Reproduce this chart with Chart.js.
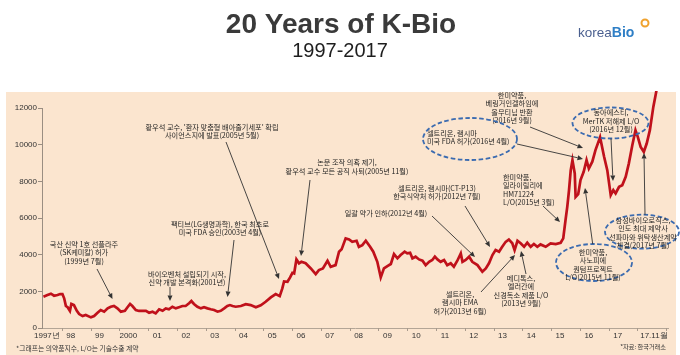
<!DOCTYPE html>
<html><head><meta charset="utf-8">
<script src="https://cdn.jsdelivr.net/npm/chart.js@4.4.1/dist/chart.umd.min.js"></script>
<style>html,body{margin:0;padding:0;background:#fff;}#wrap{position:relative;width:680px;height:355px;}</style>
</head><body><div id="wrap"><canvas id="c" width="680" height="355"></canvas></div>
<script>
// Position on the graphic's time axis (years, as drawn)
const years = [
 1997.05,1997.19,1997.31,1997.42,1997.54,1997.63,1997.71,1997.77,1997.83,1997.89,1997.97,
 1998.02,1998.11,1998.21,1998.29,1998.41,1998.52,1998.70,1998.81,1998.93,
 1999.04,1999.16,1999.28,1999.39,1999.50,1999.62,1999.74,1999.88,1999.97,
 2000.06,2000.14,2000.26,2000.37,2000.49,2000.61,2000.72,2000.84,2000.95,
 2001.07,2001.19,2001.30,2001.41,2001.53,2001.65,2001.76,2001.88,2001.99,
 2002.11,2002.19,2002.28,2002.40,2002.52,2002.63,2002.75,2002.86,2002.98,
 2003.10,2003.21,2003.33,2003.44,2003.53,2003.62,2003.73,2003.91,
 2004.08,2004.25,2004.43,2004.60,2004.77,2004.95,
 2005.12,2005.26,2005.35,2005.41,2005.53,2005.62,2005.70,2005.76,2005.84,2005.93,
 2006.01,2006.16,2006.34,2006.51,2006.62,2006.76,2006.92,
 2007.03,2007.20,2007.32,2007.41,2007.55,2007.67,2007.78,2007.93,
 2008.01,2008.13,2008.25,2008.40,2008.51,2008.65,2008.77,2008.88,
 2009.00,2009.12,2009.23,2009.35,2009.46,2009.60,2009.69,2009.79,2009.87,2009.98,
 2010.10,2010.22,2010.33,2010.45,2010.56,2010.65,2010.74,2010.85,2010.97,
 2011.08,2011.20,2011.31,2011.43,2011.55,2011.61,2011.72,2011.84,2011.95,
 2012.13,2012.30,2012.42,2012.53,2012.65,2012.76,2012.88,2012.99,
 2013.11,2013.22,2013.34,2013.42,2013.52,2013.63,2013.75,2013.86,2013.98,
 2014.09,2014.21,2014.32,2014.50,2014.67,2014.85,
 2015.02,2015.11,2015.19,2015.25,2015.31,2015.37,2015.43,2015.51,2015.54,2015.63,2015.71,2015.82,2015.92,
 2016.00,2016.12,2016.23,2016.39,2016.53,2016.64,2016.76,2016.85,2016.93,
 2017.05,2017.16,2017.28,2017.39,2017.51,2017.62,2017.70,2017.80,2017.91,
 2018.01,2018.12,2018.24,2018.33,2018.42
];
// 의약품지수 (pharma index)
const pharmaIndex = [
 1706,1800,1870,1760,1800,1853,1850,1620,1200,1130,930,
 1310,1250,940,760,650,710,580,650,830,
 980,890,1070,1160,1200,1070,890,940,1130,
 1310,1200,980,930,940,930,830,890,800,
 1020,940,1070,1020,1160,1070,1130,1200,1200,
 1350,1470,1310,1160,1070,1130,1070,1020,980,
 890,940,1070,1200,1250,1200,1160,1200,
 1300,1250,1130,1240,1430,1670,
 1850,1740,2160,2540,2520,2760,3010,2980,3740,3530,
 3610,3530,3250,2940,3160,3250,3670,
 3340,3430,4160,4290,4890,4830,4700,4760,
 4430,4520,4760,4430,4160,3610,2760,3250,
 3380,3490,4030,3800,3980,4160,4070,4100,3800,3890,
 3740,3670,3430,3610,3710,3890,3740,3610,3710,
 3430,3530,3340,3670,4070,3610,3710,3890,3610,
 3430,3070,3250,3530,3980,4250,4160,4430,
 4700,4830,4620,4250,4760,4620,4430,4650,4430,
 4580,4430,4560,4430,4620,4580,
 4650,4890,5890,6610,7500,8600,9150,8430,7150,7300,8070,8520,9160,
 8700,9070,9700,10400,9340,8610,7250,7520,7340,
 7700,7790,8250,8980,9970,10790,10430,9880,9610,
 10060,10790,12060,12790,13600
];
const xTickValues = [1997.17,1998,1999,2000,2001,2002,2003,2004,2005,2006,2007,2008,2009,2010,2011,2012,2013,2014,2015,2016,2017,2018.26];
const xTickLabels = ['1997년','98','99','2000','01','02','03','04','05','06','07','08','09','10','11','12','13','14','15','16','17','17.11월'];
const yTickValues = [0,2000,4000,6000,8000,10000,12000];

const notes = [
 {lines:['국산 신약 1호 선플라주','(SK케미칼) 허가','(1999년 7월)'], x:84, y:244, align:'center', arrow:[97,269,112.5,299]},
 {lines:['바이오벤처 설립되기 시작,','신약 개발 본격화(2001년)'], x:187, y:274, align:'center', arrow:[170,287,170,301]},
 {lines:['팩티브(LG생명과학), 한국 최초로','미국 FDA 승인(2003년 4월)'], x:220, y:224, align:'center', arrow:[234,240,227.5,297]},
 {lines:["황우석 교수, '환자 맞춤형 배아줄기세포' 확립",'사이언스지에 발표(2005년 5월)'], x:212, y:127, align:'center', arrow:[226,142,279,279]},
 {lines:['논문 조작 의혹 제기,','황우석 교수 모든 공직 사퇴(2005년 11월)'], x:347, y:162.7, align:'center', arrow:[310,180,301,256]},
 {lines:['일괄 약가 인하(2012년 4월)'], x:386, y:213.3, align:'center', arrow:[432,216,475,257]},
 {lines:['셀트리온, 램시마(CT-P13)','한국식약처 허가(2012년 7월)'], x:437, y:188.3, align:'center', arrow:[465,206,490,247]},
 {lines:['셀트리온,','램시마 EMA','허가(2013년 6월)'], x:460, y:294, align:'center', arrow:[481,292,515,255]},
 {lines:['메디톡스,','엘러간에','신경독소 제품 L/O','(2013년 9월)'], x:521, y:278, align:'center', arrow:[526,274,521,251]},
 {lines:['한미약품,','일라이릴리에','HM71224','L/O(2015년 3월)'], x:503, y:177.3, align:'left', arrow:[543,206,560,222]},
 {lines:['한미약품,','베링거인겔하임에','올무티닙 반환','(2016년 9월)'], x:512, y:95, align:'center', arrow:[530,127,583,148]},
 {lines:['셀트리온, 램시마','미국 FDA 허가(2016년 4월)'], x:427, y:133.3, align:'left', ellipse:[470,139,47,21], arrow:[517,144,583,159]},
 {lines:['동아에스티,','MerTK 저해제 L/O','(2016년 12월)'], x:611, y:112.7, align:'center', ellipse:[610.5,123,38,15.5], arrow:[611,138.5,613,181]},
 {lines:['한미약품,','사노피에','퀀텀프로젝트','L/O(2015년 11월)'], x:593, y:252.3, align:'center', ellipse:[594,262.5,38,18.5], arrow:[592.7,244,585,188]},
 {lines:['삼성바이오로직스,','인도 최대 제약사','선파마와 위탁생산계약','체결(2017년 7월)'], x:643, y:220, align:'center', ellipse:[642,231.7,37,17], arrow:[645,214.7,644,153]}
];

const KR = '"Noto Sans CJK KR", "Noto Sans", sans-serif';
const NUM = '"Liberation Sans Narrow", "Arial Narrow", "Liberation Sans", Arial, sans-serif';

function arrow(ctx, x1, y1, x2, y2) {
  const a = Math.atan2(y2 - y1, x2 - x1), L = 5.5, W = 2.5;
  const bx = x2 - L * Math.cos(a), by = y2 - L * Math.sin(a);
  ctx.beginPath(); ctx.moveTo(x1, y1); ctx.lineTo(bx, by); ctx.stroke();
  ctx.beginPath();
  ctx.moveTo(x2, y2);
  ctx.lineTo(bx + W * Math.sin(a), by - W * Math.cos(a));
  ctx.lineTo(bx - W * Math.sin(a), by + W * Math.cos(a));
  ctx.closePath(); ctx.fill();
}

const decor = {
  id: 'decor',
  beforeDraw(chart) {
    const ctx = chart.ctx;
    ctx.save();
    ctx.fillStyle = '#ffffff'; ctx.fillRect(0, 0, 680, 355);
    ctx.fillStyle = '#fbe5cf'; ctx.fillRect(6, 92, 670, 263);
    // title
    ctx.fillStyle = '#3a3a3a'; ctx.textAlign = 'center'; ctx.textBaseline = 'alphabetic';
    ctx.font = 'bold 28px "Liberation Sans", Arial, sans-serif';
    ctx.fillText('20 Years of K-Bio', 341, 33);
    ctx.fillStyle = '#1e1e1e';
    ctx.font = '20px "Liberation Sans", Arial, sans-serif';
    ctx.fillText('1997-2017', 340, 57);
    // logo
    ctx.textAlign = 'left';
    ctx.font = '13.5px "Liberation Sans", Arial, sans-serif';
    ctx.fillStyle = '#4a5f8f';
    ctx.fillText('korea', 578, 36.5);
    const w = ctx.measureText('korea').width;
    ctx.font = 'bold 14px "Liberation Sans", Arial, sans-serif';
    ctx.fillStyle = '#2f7fc6';
    ctx.fillText('Bio', 578 + w, 36.5);
    ctx.strokeStyle = '#f0a22e'; ctx.lineWidth = 2;
    ctx.beginPath(); ctx.arc(645, 23, 3.5, 0, Math.PI * 2); ctx.stroke();
    ctx.restore();
  },
  afterDraw(chart) {
    const ctx = chart.ctx, xs = chart.scales.x, area = chart.chartArea;
    ctx.save();
    // small x tick marks between labels
    ctx.strokeStyle = '#a89a8c'; ctx.lineWidth = 1;
    for (let yv = 1997; yv <= 2018; yv++) {
      const px = Math.round(xs.getPixelForValue(yv + 0.69)) + 0.5;
      if (px > area.right) continue;
      ctx.beginPath(); ctx.moveTo(px, area.bottom); ctx.lineTo(px, area.bottom + 3); ctx.stroke();
    }
    // annotations
    for (const n of notes) {
      if (n.ellipse) {
        const [cx, cy, rx, ry] = n.ellipse;
        ctx.save();
        ctx.setLineDash([4.5, 2.5]); ctx.strokeStyle = '#3b6bb0'; ctx.lineWidth = 1.8;
        ctx.beginPath(); ctx.ellipse(cx, cy, rx, ry, 0, 0, Math.PI * 2); ctx.stroke();
        ctx.restore();
      }
      ctx.fillStyle = '#1f1f1f';
      ctx.font = '7.2px ' + KR;
      ctx.textAlign = n.align; ctx.textBaseline = 'middle';
      n.lines.forEach((t, i) => ctx.fillText(t, n.x, n.y + i * 8.4));
      if (n.arrow) {
        ctx.strokeStyle = '#333'; ctx.fillStyle = '#333'; ctx.lineWidth = 0.9;
        arrow(ctx, ...n.arrow);
      }
    }
    // footnotes
    ctx.fillStyle = '#333'; ctx.textBaseline = 'middle';
    ctx.font = '6.8px ' + KR; ctx.textAlign = 'left';
    ctx.fillText('*그래프는 의약품지수, L/O는 기술수출 계약', 16, 348.7);
    ctx.font = '6.2px ' + KR; ctx.textAlign = 'right';
    ctx.fillText('*자료: 한국거래소', 666, 347);
    ctx.restore();
  }
};

new Chart(document.getElementById('c'), {
  type: 'line',
  data: {
    datasets: [{
      data: years.map((t, i) => ({ x: t, y: pharmaIndex[i] })),
      borderColor: '#c0111b', borderWidth: 2.7, pointRadius: 0, tension: 0,
      clip: { left: 5, top: 17, right: 5, bottom: 5 }
    }]
  },
  options: {
    responsive: false, animation: false, devicePixelRatio: 1,
    layout: { padding: { top: 108, right: 12, bottom: 0, left: 0 } },
    plugins: { legend: { display: false }, tooltip: { enabled: false } },
    scales: {
      x: {
        type: 'linear', min: 1997, max: 2018.75,
        afterBuildTicks: s => { s.ticks = xTickValues.map(v => ({ value: v })); },
        afterFit: s => { s.height = 27; },
        ticks: { autoSkip: false, maxRotation: 0, padding: 3, color: '#333',
          font: { family: NUM, size: 8 }, callback: (v, i) => xTickLabels[i] },
        grid: { drawOnChartArea: false, drawTicks: false },
        border: { color: '#b3a596', width: 1 }
      },
      y: {
        min: 0, max: 12000,
        afterBuildTicks: s => { s.ticks = yTickValues.map(v => ({ value: v })); },
        afterFit: s => { s.width = 42; },
        ticks: { padding: 1, color: '#333', font: { family: NUM, size: 8 }, callback: v => String(v) },
        grid: { drawOnChartArea: false, drawTicks: true, tickLength: 4, color: '#9a8e82' },
        border: { color: '#9a8e82', width: 1 }
      }
    }
  },
  plugins: [decor]
});
</script></body></html>
